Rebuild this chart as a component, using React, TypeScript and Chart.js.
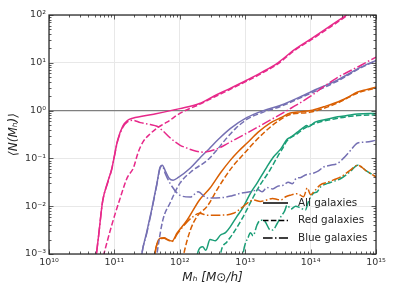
import React, { useEffect, useRef } from "react";
import { Chart, registerables } from "chart.js";

Chart.register(...registerables);

type P = [number, number];

// ---- tick values / labels ----
const xTickValues = [1e10, 1e11, 1e12, 1e13, 1e14, 1e15];
const xTickLabels = ["10¹⁰", "10¹¹", "10¹²", "10¹³", "10¹⁴", "10¹⁵"];
const yTickValues = [1e-3, 1e-2, 1e-1, 1e0, 1e1, 1e2];
const yTickLabels = ["10⁻³", "10⁻²", "10⁻¹", "10⁰", "10¹", "10²"];

const legendLabels = ["All galaxies", "Red galaxies", "Blue galaxies"];

// ---- reference line N = 1 ----
const unityLine: P[] = [[1e10, 1], [1e15, 1]];

// ---- pink sample ----
const pinkAll: P[] = [
  [5.0e10, 5.0e-4], [5.75e10, 2.5e-3], [6.6e10, 1.26e-2], [7.9e10, 3.2e-2], [9.1e10, 6.0e-2],
  [1.12e11, 0.24], [1.35e11, 0.48], [1.58e11, 0.62], [1.9e11, 0.69], [4.0e11, 0.84],
  [1.0e12, 1.1], [2.0e12, 1.41], [3.3e12, 2.0], [5.6e12, 2.82], [1.07e13, 4.37],
  [1.78e13, 6.3], [3.16e13, 10], [5.6e13, 18.6], [1.1e14, 33.9], [2.0e14, 58.9], [4.0e14, 112],
];
const pinkRed: P[] = [
  [6.3e10, 6.3e-4], [6.9e10, 1.0e-3], [9.1e10, 4.0e-3], [1.2e11, 1.35e-2], [1.58e11, 4.0e-2],
  [1.95e11, 6.3e-2], [2.3e11, 0.132], [2.75e11, 0.224], [3.55e11, 0.33], [4.47e11, 0.43],
  [5.6e11, 0.52], [7.1e11, 0.63], [8.9e11, 0.79], [1.12e12, 0.95], [2.0e12, 1.35],
  [3.3e12, 1.9], [5.6e12, 2.7], [1.07e13, 4.17], [1.78e13, 6.0], [3.16e13, 9.5],
  [5.6e13, 17.8], [1.1e14, 32.4], [2.0e14, 56], [4.0e14, 107],
];
const pinkBlue: P[] = [
  [5.0e10, 5.0e-4], [5.75e10, 2.5e-3], [6.6e10, 1.25e-2], [7.9e10, 3.1e-2], [9.1e10, 5.9e-2],
  [1.12e11, 0.23], [1.35e11, 0.45], [1.58e11, 0.58], [1.9e11, 0.63], [2.5e11, 0.56],
  [3.55e11, 0.51], [4.47e11, 0.47], [5.6e11, 0.37], [7.1e11, 0.27], [1.0e12, 0.19],
  [1.26e12, 0.166], [1.58e12, 0.148], [2.3e12, 0.135], [3.7e12, 0.158], [5.9e12, 0.22],
  [1.07e13, 0.34], [2.4e13, 0.63], [5.0e13, 1.12], [1.0e14, 2.0], [1.58e14, 3.16],
  [2.5e14, 4.8], [5.9e14, 8.9], [1.0e15, 13.2],
];

// ---- purple sample ----
const purpleAll: P[] = [
  [2.5e11, 5.0e-4], [2.63e11, 1.0e-3], [3.1e11, 2.75e-3], [3.7e11, 8.3e-3], [4.47e11, 3.0e-2],
  [5.0e11, 6.6e-2], [5.4e11, 7.2e-2], [6.0e11, 5.5e-2], [6.9e11, 3.8e-2], [7.9e11, 3.5e-2],
  [9.5e11, 4.0e-2], [1.45e12, 6.3e-2], [2.0e12, 0.1], [2.8e12, 0.158], [4.0e12, 0.26],
  [5.9e12, 0.42], [1.07e13, 0.72], [1.9e13, 1.0], [3.5e13, 1.29], [7.9e13, 2.1],
  [1.0e14, 2.45], [2.6e14, 4.4], [5.9e14, 8.1], [1.0e15, 11.2],
];
const purpleRed: P[] = [
  [4.17e11, 5.0e-4], [4.47e11, 1.0e-3], [5.5e11, 5.1e-3], [7.1e11, 1.17e-2], [1.0e12, 3.0e-2],
  [1.58e12, 5.6e-2], [2.63e12, 9.1e-2], [3.7e12, 0.15], [5.0e12, 0.25], [7.1e12, 0.42],
  [1.07e13, 0.66], [1.9e13, 0.93], [3.5e13, 1.23], [7.9e13, 2.0], [2.6e14, 4.17],
  [5.9e14, 7.9], [1.0e15, 11.0],
];
const purpleBlue: P[] = [
  [2.5e11, 5.0e-4], [2.63e11, 1.0e-3], [3.1e11, 2.6e-3], [3.7e11, 7.9e-3], [4.47e11, 2.9e-2],
  [5.0e11, 6.3e-2], [5.4e11, 6.9e-2], [6.0e11, 4.8e-2], [7.1e11, 3.0e-2], [1.0e12, 1.7e-2],
  [1.45e12, 1.55e-2], [1.9e12, 2.0e-2], [2.63e12, 1.48e-2], [4.2e12, 1.5e-2], [6.3e12, 1.66e-2],
  [8.5e12, 1.86e-2], [1.2e13, 2.0e-2], [1.58e13, 2.2e-2], [1.82e13, 2.0e-2], [2.14e13, 2.45e-2],
  [2.63e13, 2.3e-2], [3.16e13, 2.63e-2], [3.8e13, 2.75e-2], [4.57e13, 3.16e-2], [5.25e13, 2.95e-2],
  [6.0e13, 3.8e-2], [7.1e13, 4.0e-2], [8.3e13, 4.5e-2], [1.1e14, 4.9e-2], [1.32e14, 5.5e-2],
  [1.58e14, 6.6e-2], [2.0e14, 7.2e-2], [2.6e14, 7.9e-2], [3.16e14, 0.1], [4.1e14, 0.148],
  [5.25e14, 0.21], [7.1e14, 0.22], [1.0e15, 0.24],
];

// ---- orange sample ----
const orangeAll: P[] = [
  [4.0e11, 5.0e-4], [4.17e11, 1.0e-3], [4.57e11, 1.78e-3], [5.0e11, 2.14e-3], [5.75e11, 2.19e-3],
  [6.6e11, 2.0e-3], [7.6e11, 1.86e-3], [9.1e11, 2.75e-3], [1.29e12, 5.1e-3], [2.0e12, 1.35e-2],
  [2.9e12, 2.4e-2], [4.2e12, 5.0e-2], [5.9e12, 9.1e-2], [7.9e12, 0.141], [1.07e13, 0.21],
  [1.58e13, 0.355], [2.4e13, 0.55], [3.5e13, 0.71], [4.9e13, 0.89], [7.1e13, 0.95],
  [1.0e14, 1.0], [1.58e14, 1.2], [2.6e14, 1.51], [3.6e14, 1.86], [5.25e14, 2.45],
  [7.1e14, 2.75], [1.0e15, 3.1],
];
const orangeRed: P[] = [
  [1.05e12, 5.0e-4], [1.15e12, 1.0e-3], [1.45e12, 3.16e-3], [1.82e12, 6.0e-3], [2.63e12, 1.0e-2],
  [3.7e12, 2.2e-2], [5.0e12, 4.2e-2], [6.6e12, 7.1e-2], [8.9e12, 0.112], [1.26e13, 0.19],
  [2.0e13, 0.36], [3.16e13, 0.6], [4.9e13, 0.83], [1.0e14, 0.93], [2.6e14, 1.45],
  [5.25e14, 2.34], [1.0e15, 2.95],
];
const orangeBlue: P[] = [
  [4.0e11, 5.0e-4], [4.17e11, 1.0e-3], [4.57e11, 1.74e-3], [5.0e11, 2.1e-3], [5.75e11, 2.14e-3],
  [6.6e11, 1.95e-3], [7.6e11, 1.82e-3], [9.1e11, 2.6e-3], [1.29e12, 4.7e-3], [1.58e12, 6.0e-3],
  [2.0e12, 7.1e-3], [2.63e12, 6.5e-3], [4.2e12, 6.5e-3], [6.6e12, 7.1e-3], [8.5e12, 8.9e-3],
  [1.07e13, 1.15e-2], [1.35e13, 1.35e-2], [1.7e13, 1.26e-2], [2.14e13, 1.35e-2], [2.63e13, 1.45e-2],
  [3.1e13, 1.38e-2], [3.5e13, 1.35e-2], [4.17e13, 1.58e-2], [4.9e13, 1.7e-2], [6.3e13, 1.82e-2],
  [7.8e13, 1.58e-2], [8.9e13, 2.4e-2], [1.0e14, 1.74e-2], [1.12e14, 2.0e-2], [1.41e14, 2.8e-2],
  [1.82e14, 3.16e-2], [2.24e14, 3.55e-2], [2.9e14, 4.1e-2], [4.0e14, 5.6e-2], [5.25e14, 7.2e-2],
  [7.1e14, 5.5e-2], [1.0e15, 4.1e-2],
];

// ---- green sample ----
const greenAll: P[] = [
  [1.74e12, 5.0e-4], [1.9e12, 1.12e-3], [2.24e12, 1.41e-3], [2.5e12, 1.2e-3], [2.9e12, 2.0e-3],
  [3.5e12, 1.9e-3], [4.2e12, 2.5e-3], [5.0e12, 2.8e-3], [5.9e12, 3.7e-3], [7.4e12, 6.0e-3],
  [9.3e12, 9.5e-3], [1.2e13, 1.86e-2], [1.51e13, 3.0e-2], [2.14e13, 6.6e-2], [2.7e13, 0.107],
  [3.5e13, 0.158], [4.37e13, 0.25], [4.9e13, 0.275], [6.3e13, 0.355], [7.9e13, 0.45],
  [8.7e13, 0.49], [9.3e13, 0.46], [1.17e14, 0.575], [1.78e14, 0.66], [2.6e14, 0.74],
  [3.6e14, 0.79], [5.25e14, 0.85], [1.0e15, 0.87],
];
const greenRed: P[] = [
  [4.0e12, 5.0e-4], [4.2e12, 1.0e-3], [5.25e12, 1.78e-3], [6.6e12, 2.75e-3], [9.3e12, 6.0e-3],
  [1.26e13, 1.35e-2], [1.58e13, 2.4e-2], [2.4e13, 5.75e-2], [3.16e13, 0.112], [3.7e13, 0.158],
  [4.37e13, 0.234], [6.3e13, 0.33], [7.9e13, 0.42], [1.17e14, 0.54], [2.6e14, 0.69],
  [5.25e14, 0.79], [1.0e15, 0.81],
];
const greenBlue: P[] = [
  [8.9e12, 5.0e-4], [9.3e12, 1.0e-3], [1.12e13, 2.3e-3], [1.2e13, 2.8e-3], [1.32e13, 2.4e-3],
  [1.51e13, 4.0e-3], [1.7e13, 5.1e-3], [2.0e13, 4.8e-3], [2.4e13, 3.2e-3], [2.63e13, 3.16e-3],
  [3.1e13, 4.4e-3], [3.5e13, 6.0e-3], [4.0e13, 7.9e-3], [4.37e13, 1.05e-2], [5.0e13, 8.7e-3],
  [5.9e13, 1.0e-2], [7.1e13, 9.1e-3], [8.3e13, 8.3e-3], [9.3e13, 1.26e-2], [1.1e14, 1.86e-2],
  [1.26e14, 2.0e-2], [1.41e14, 2.5e-2], [1.82e14, 3.0e-2], [2.24e14, 3.3e-2], [2.9e14, 3.8e-2],
  [4.0e14, 5.25e-2], [5.25e14, 7.2e-2], [7.1e14, 5.5e-2], [1.0e15, 4.1e-2],
];

const PINK = "#e7298a";
const PURPLE = "#7570b3";
const ORANGE = "#d95f02";
const GREEN = "#1b9e77";
const DASH = [5.5, 2.4];
const DASHDOT = [9.6, 2.4, 1.5, 2.4];
const legendDashes = [[], DASH, DASHDOT];

function ds(data: P[], color: string, dash: number[]) {
  return {
    data: data.map(([x, y]) => ({ x, y })),
    borderColor: color,
    backgroundColor: color,
    borderWidth: 1.5,
    borderDash: dash,
    pointRadius: 0,
    fill: false,
    cubicInterpolationMode: "monotone" as const,
    clip: 0,
  };
}

const framePlugin = {
  id: "frame",
  afterDatasetsDraw(chart: any) {
    const { ctx, chartArea: a, scales } = chart;
    const xs = scales.x;
    const ys = scales.y;
    ctx.save();
    ctx.strokeStyle = "#333333";
    ctx.lineWidth = 0.8;
    const seg = (x1: number, y1: number, x2: number, y2: number) => {
      ctx.beginPath();
      ctx.moveTo(x1, y1);
      ctx.lineTo(x2, y2);
      ctx.stroke();
    };
    for (let e = 10; e <= 15; e++) {
      for (let m = 1; m <= 9; m++) {
        const v = m * Math.pow(10, e);
        if (v > 1e15 * 1.0001) continue;
        const p = Math.round(xs.getPixelForValue(v)) + 0.5;
        const len = m === 1 ? 4.5 : 2.5;
        seg(p, a.bottom, p, a.bottom - len);
        seg(p, a.top, p, a.top + len);
      }
    }
    for (let e = -3; e <= 2; e++) {
      for (let m = 1; m <= 9; m++) {
        const v = m * Math.pow(10, e);
        if (v > 100 * 1.0001) continue;
        const p = Math.round(ys.getPixelForValue(v)) + 0.5;
        const len = m === 1 ? 4.5 : 2.5;
        seg(a.left, p, a.left + len, p);
        seg(a.right, p, a.right - len, p);
      }
    }
    ctx.lineWidth = 1.25;
    ctx.strokeStyle = "#262626";
    ctx.strokeRect(a.left, a.top, a.right - a.left, a.bottom - a.top);
    ctx.restore();
  },
  afterDraw(chart: any) {
    const { ctx, chartArea: a } = chart;
    ctx.save();
    ctx.font = "10.4px 'DejaVu Sans'";
    ctx.textBaseline = "middle";
    ctx.fillStyle = "#262626";
    const rows = [a.bottom - 51, a.bottom - 33.5, a.bottom - 16];
    legendLabels.forEach((label, i) => {
      const y = rows[i];
      ctx.strokeStyle = "#000000";
      ctx.lineWidth = 1.5;
      ctx.setLineDash(legendDashes[i]);
      ctx.beginPath();
      ctx.moveTo(a.right - 113, y);
      ctx.lineTo(a.right - 88, y);
      ctx.stroke();
      ctx.setLineDash([]);
      ctx.fillText(label, a.right - 78, y);
    });
    ctx.restore();
  },
};

export default function App() {
  const ref = useRef<HTMLCanvasElement | null>(null);
  useEffect(() => {
    document.body.style.margin = "0";
    const canvas = ref.current;
    if (!canvas) return;
    Chart.defaults.font.family = "'DejaVu Sans', sans-serif";
    const chart = new Chart(canvas, {
      type: "line",
      data: {
        datasets: [
          ds(pinkAll, PINK, []),
          ds(pinkRed, PINK, DASH),
          ds(pinkBlue, PINK, DASHDOT),
          ds(purpleAll, PURPLE, []),
          ds(purpleRed, PURPLE, DASH),
          ds(purpleBlue, PURPLE, DASHDOT),
          ds(orangeAll, ORANGE, []),
          ds(orangeRed, ORANGE, DASH),
          ds(orangeBlue, ORANGE, DASHDOT),
          ds(greenAll, GREEN, []),
          ds(greenRed, GREEN, DASH),
          ds(greenBlue, GREEN, DASHDOT),
          { ...ds(unityLine, "#7f7f7f", []), borderWidth: 1.3, cubicInterpolationMode: "default" as any },
        ] as any,
      },
      options: {
        animation: false,
        responsive: false,
        events: [],
        layout: { padding: { top: 15, right: 23, left: 0, bottom: 0 } },
        plugins: { legend: { display: false }, tooltip: { enabled: false } },
        scales: {
          x: {
            type: "logarithmic",
            position: "bottom",
            min: 1e10,
            max: 1e15,
            afterBuildTicks: (s: any) => {
              s.ticks = xTickValues.map((v) => ({ value: v }));
            },
            afterFit: (s: any) => {
              s.height = 40;
            },
            ticks: {
              autoSkip: false,
              maxRotation: 0,
              padding: 3,
              color: "#333333",
              font: { size: 9.5 },
              callback: (v: any) => {
                const i = xTickValues.indexOf(Number(v));
                return i >= 0 ? xTickLabels[i] : "";
              },
            },
            grid: { color: "#e8e8e8", lineWidth: 1, drawTicks: false },
            border: { display: false },
            title: {
              display: true,
              text: "Mₕ [M⊙/h]",
              color: "#262626",
              font: { size: 12, style: "italic" },
              padding: { top: 0, bottom: 9 },
            },
          },
          y: {
            type: "logarithmic",
            min: 1e-3,
            max: 1e2,
            afterBuildTicks: (s: any) => {
              s.ticks = yTickValues.map((v) => ({ value: v }));
            },
            afterFit: (s: any) => {
              s.width = 49;
            },
            ticks: {
              autoSkip: false,
              padding: 3,
              color: "#333333",
              font: { size: 9.5 },
              callback: (v: any) => {
                const i = yTickValues.findIndex((t) => Math.abs(t - Number(v)) / t < 1e-6);
                return i >= 0 ? yTickLabels[i] : "";
              },
            },
            grid: { color: "#e8e8e8", lineWidth: 1, drawTicks: false },
            border: { display: false },
            title: {
              display: true,
              text: "⟨N(Mₕ)⟩",
              color: "#262626",
              font: { size: 12, style: "italic" },
              padding: { top: 7, bottom: 0 },
            },
          },
        },
      },
      plugins: [framePlugin],
    });
    return () => chart.destroy();
  }, []);
  return (
    <div style={{ width: 399, height: 294 }}>
      <canvas ref={ref} width={399} height={294} />
    </div>
  );
}
